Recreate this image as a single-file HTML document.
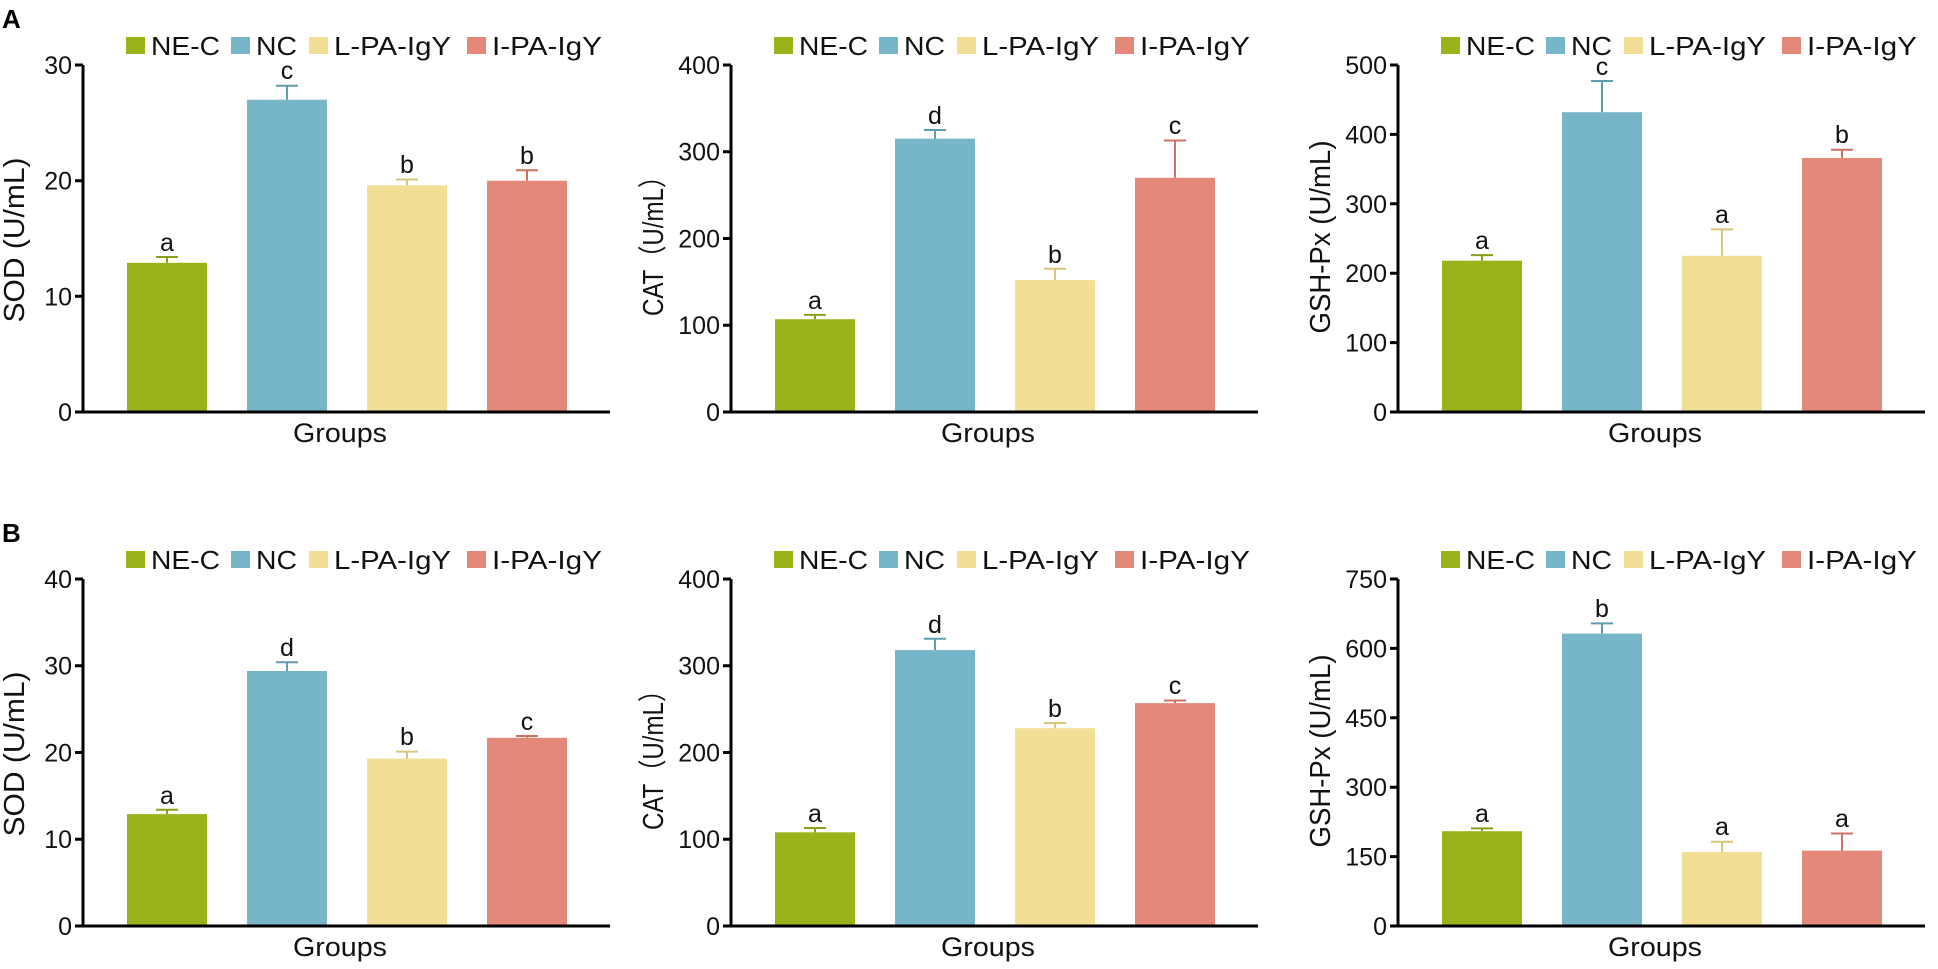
<!DOCTYPE html>
<html><head><meta charset="utf-8"><style>
html,body{margin:0;padding:0;background:#fff;}
svg{display:block;font-family:"Liberation Sans",Arial,sans-serif;}
.t{font-size:25px;fill:#111;text-anchor:end;}
.l{font-size:25px;fill:#111;text-anchor:middle;}
.g{font-size:27px;fill:#111;text-anchor:middle;}
.yt{font-size:29px;fill:#111;text-anchor:middle;}
.lg{font-size:26px;fill:#111;}
.ax{stroke:#000;stroke-width:3;fill:none;}
.G{fill:#9bb31a}.B{fill:#77b5c8}.Y{fill:#f2de95}.R{fill:#e4897a}
.eG{stroke:#8a9f18;stroke-width:2}.eB{stroke:#5f9db0;stroke-width:2}.eY{stroke:#d9c57c;stroke-width:2}.eR{stroke:#cc7263;stroke-width:2}
</style></head><body>
<svg width="1938" height="969" viewBox="0 0 1938 969" xmlns="http://www.w3.org/2000/svg">
<text x="2" y="28" font-size="26" font-weight="bold">A</text>
<text x="2" y="542" font-size="26" font-weight="bold">B</text>

<!-- A1 -->
<g transform="translate(83,65)">
<rect class="G" x="43" y="-28" width="19" height="17"/><text class="lg" x="68" y="-10" textLength="69" lengthAdjust="spacingAndGlyphs">NE-C</text>
<rect class="B" x="148" y="-28" width="19" height="17"/><text class="lg" x="173" y="-10" textLength="41" lengthAdjust="spacingAndGlyphs">NC</text>
<rect class="Y" x="226" y="-28" width="19" height="17"/><text class="lg" x="251" y="-10" textLength="117" lengthAdjust="spacingAndGlyphs">L-PA-IgY</text>
<rect class="R" x="384" y="-28" width="19" height="17"/><text class="lg" x="409" y="-10" textLength="110" lengthAdjust="spacingAndGlyphs">I-PA-IgY</text>
<rect class="G" x="44" y="197.8" width="80" height="149.2"/><line class="eG" x1="84" y1="197.8" x2="84" y2="192"/><line class="eG" x1="73" y1="192" x2="95" y2="192"/><text class="l" x="84" y="186">a</text>
<rect class="B" x="164" y="34.7" width="80" height="312.3"/><line class="eB" x1="204" y1="34.7" x2="204" y2="20.8"/><line class="eB" x1="193" y1="20.8" x2="215" y2="20.8"/><text class="l" x="204" y="14">c</text>
<rect class="Y" x="284" y="120.3" width="80" height="226.7"/><line class="eY" x1="324" y1="120.3" x2="324" y2="114.5"/><line class="eY" x1="313" y1="114.5" x2="335" y2="114.5"/><text class="l" x="324" y="108">b</text>
<rect class="R" x="404" y="115.7" width="80" height="231.3"/><line class="eR" x1="444" y1="115.7" x2="444" y2="105.3"/><line class="eR" x1="433" y1="105.3" x2="455" y2="105.3"/><text class="l" x="444" y="99">b</text>
<path class="ax" d="M0,0V347H527M-8,0H0M-8,115.7H0M-8,231.3H0M-8,347H0"/>
<text class="t" x="-11" y="9">30</text><text class="t" x="-11" y="124.7">20</text><text class="t" x="-11" y="240.3">10</text><text class="t" x="-11" y="356">0</text>
<text class="yt" transform="translate(-59,175) rotate(-90)" textLength="165" lengthAdjust="spacingAndGlyphs">SOD (U/mL)</text>
<text class="g" x="257" y="377" textLength="94" lengthAdjust="spacingAndGlyphs">Groups</text>
</g>

<!-- A2 -->
<g transform="translate(731,65)">
<rect class="G" x="43" y="-28" width="19" height="17"/><text class="lg" x="68" y="-10" textLength="69" lengthAdjust="spacingAndGlyphs">NE-C</text>
<rect class="B" x="148" y="-28" width="19" height="17"/><text class="lg" x="173" y="-10" textLength="41" lengthAdjust="spacingAndGlyphs">NC</text>
<rect class="Y" x="226" y="-28" width="19" height="17"/><text class="lg" x="251" y="-10" textLength="117" lengthAdjust="spacingAndGlyphs">L-PA-IgY</text>
<rect class="R" x="384" y="-28" width="19" height="17"/><text class="lg" x="409" y="-10" textLength="110" lengthAdjust="spacingAndGlyphs">I-PA-IgY</text>
<rect class="G" x="44" y="254.2" width="80" height="92.8"/><line class="eG" x1="84" y1="254.2" x2="84" y2="249.9"/><line class="eG" x1="73" y1="249.9" x2="95" y2="249.9"/><text class="l" x="84" y="244">a</text>
<rect class="B" x="164" y="73.7" width="80" height="273.3"/><line class="eB" x1="204" y1="73.7" x2="204" y2="65"/><line class="eB" x1="193" y1="65" x2="215" y2="65"/><text class="l" x="204" y="59">d</text>
<rect class="Y" x="284" y="215.1" width="80" height="131.9"/><line class="eY" x1="324" y1="215.1" x2="324" y2="203.8"/><line class="eY" x1="313" y1="203.8" x2="335" y2="203.8"/><text class="l" x="324" y="198">b</text>
<rect class="R" x="404" y="112.8" width="80" height="234.2"/><line class="eR" x1="444" y1="112.8" x2="444" y2="75.5"/><line class="eR" x1="433" y1="75.5" x2="455" y2="75.5"/><text class="l" x="444" y="69">c</text>
<path class="ax" d="M0,0V347H527M-8,0H0M-8,86.75H0M-8,173.5H0M-8,260.25H0M-8,347H0"/>
<text class="t" x="-11" y="9">400</text><text class="t" x="-11" y="95.7">300</text><text class="t" x="-11" y="182.5">200</text><text class="t" x="-11" y="269.2">100</text><text class="t" x="-11" y="356">0</text>
<text class="yt" transform="translate(-68,175) rotate(-90)" textLength="152" lengthAdjust="spacingAndGlyphs">CAT（U/mL）</text>
<text class="g" x="257" y="377" textLength="94" lengthAdjust="spacingAndGlyphs">Groups</text>
</g>

<!-- A3 -->
<g transform="translate(1398,65)">
<rect class="G" x="43" y="-28" width="19" height="17"/><text class="lg" x="68" y="-10" textLength="69" lengthAdjust="spacingAndGlyphs">NE-C</text>
<rect class="B" x="148" y="-28" width="19" height="17"/><text class="lg" x="173" y="-10" textLength="41" lengthAdjust="spacingAndGlyphs">NC</text>
<rect class="Y" x="226" y="-28" width="19" height="17"/><text class="lg" x="251" y="-10" textLength="117" lengthAdjust="spacingAndGlyphs">L-PA-IgY</text>
<rect class="R" x="384" y="-28" width="19" height="17"/><text class="lg" x="409" y="-10" textLength="110" lengthAdjust="spacingAndGlyphs">I-PA-IgY</text>
<rect class="G" x="44" y="195.7" width="80" height="151.3"/><line class="eG" x1="84" y1="195.7" x2="84" y2="190.1"/><line class="eG" x1="73" y1="190.1" x2="95" y2="190.1"/><text class="l" x="84" y="184">a</text>
<rect class="B" x="164" y="47.2" width="80" height="299.8"/><line class="eB" x1="204" y1="47.2" x2="204" y2="16"/><line class="eB" x1="193" y1="16" x2="215" y2="16"/><text class="l" x="204" y="10">c</text>
<rect class="Y" x="284" y="190.8" width="80" height="156.2"/><line class="eY" x1="324" y1="190.8" x2="324" y2="164.4"/><line class="eY" x1="313" y1="164.4" x2="335" y2="164.4"/><text class="l" x="324" y="158">a</text>
<rect class="R" x="404" y="93" width="80" height="254"/><line class="eR" x1="444" y1="93" x2="444" y2="84.7"/><line class="eR" x1="433" y1="84.7" x2="455" y2="84.7"/><text class="l" x="444" y="78">b</text>
<path class="ax" d="M0,0V347H527M-8,0H0M-8,69.4H0M-8,138.8H0M-8,208.2H0M-8,277.6H0M-8,347H0"/>
<text class="t" x="-11" y="9">500</text><text class="t" x="-11" y="78.4">400</text><text class="t" x="-11" y="147.8">300</text><text class="t" x="-11" y="217.2">200</text><text class="t" x="-11" y="286.6">100</text><text class="t" x="-11" y="356">0</text>
<text class="yt" transform="translate(-68,172) rotate(-90)" textLength="193" lengthAdjust="spacingAndGlyphs">GSH-Px (U/mL)</text>
<text class="g" x="257" y="377" textLength="94" lengthAdjust="spacingAndGlyphs">Groups</text>
</g>

<!-- B1 -->
<g transform="translate(83,579)">
<rect class="G" x="43" y="-28" width="19" height="17"/><text class="lg" x="68" y="-10" textLength="69" lengthAdjust="spacingAndGlyphs">NE-C</text>
<rect class="B" x="148" y="-28" width="19" height="17"/><text class="lg" x="173" y="-10" textLength="41" lengthAdjust="spacingAndGlyphs">NC</text>
<rect class="Y" x="226" y="-28" width="19" height="17"/><text class="lg" x="251" y="-10" textLength="117" lengthAdjust="spacingAndGlyphs">L-PA-IgY</text>
<rect class="R" x="384" y="-28" width="19" height="17"/><text class="lg" x="409" y="-10" textLength="110" lengthAdjust="spacingAndGlyphs">I-PA-IgY</text>
<rect class="G" x="44" y="235.1" width="80" height="111.9"/><line class="eG" x1="84" y1="235.1" x2="84" y2="230.8"/><line class="eG" x1="73" y1="230.8" x2="95" y2="230.8"/><text class="l" x="84" y="225">a</text>
<rect class="B" x="164" y="92" width="80" height="255"/><line class="eB" x1="204" y1="92" x2="204" y2="83.3"/><line class="eB" x1="193" y1="83.3" x2="215" y2="83.3"/><text class="l" x="204" y="77">d</text>
<rect class="Y" x="284" y="179.6" width="80" height="167.4"/><line class="eY" x1="324" y1="179.6" x2="324" y2="172.6"/><line class="eY" x1="313" y1="172.6" x2="335" y2="172.6"/><text class="l" x="324" y="166">b</text>
<rect class="R" x="404" y="158.8" width="80" height="188.2"/><line class="eR" x1="444" y1="158.8" x2="444" y2="157"/><line class="eR" x1="433" y1="157" x2="455" y2="157"/><text class="l" x="444" y="151">c</text>
<path class="ax" d="M0,0V347H527M-8,0H0M-8,86.75H0M-8,173.5H0M-8,260.25H0M-8,347H0"/>
<text class="t" x="-11" y="9">40</text><text class="t" x="-11" y="95.7">30</text><text class="t" x="-11" y="182.5">20</text><text class="t" x="-11" y="269.2">10</text><text class="t" x="-11" y="356">0</text>
<text class="yt" transform="translate(-59,175) rotate(-90)" textLength="165" lengthAdjust="spacingAndGlyphs">SOD (U/mL)</text>
<text class="g" x="257" y="377" textLength="94" lengthAdjust="spacingAndGlyphs">Groups</text>
</g>

<!-- B2 -->
<g transform="translate(731,579)">
<rect class="G" x="43" y="-28" width="19" height="17"/><text class="lg" x="68" y="-10" textLength="69" lengthAdjust="spacingAndGlyphs">NE-C</text>
<rect class="B" x="148" y="-28" width="19" height="17"/><text class="lg" x="173" y="-10" textLength="41" lengthAdjust="spacingAndGlyphs">NC</text>
<rect class="Y" x="226" y="-28" width="19" height="17"/><text class="lg" x="251" y="-10" textLength="117" lengthAdjust="spacingAndGlyphs">L-PA-IgY</text>
<rect class="R" x="384" y="-28" width="19" height="17"/><text class="lg" x="409" y="-10" textLength="110" lengthAdjust="spacingAndGlyphs">I-PA-IgY</text>
<rect class="G" x="44" y="253.3" width="80" height="93.7"/><line class="eG" x1="84" y1="253.3" x2="84" y2="249"/><line class="eG" x1="73" y1="249" x2="95" y2="249"/><text class="l" x="84" y="243">a</text>
<rect class="B" x="164" y="71.1" width="80" height="275.9"/><line class="eB" x1="204" y1="71.1" x2="204" y2="59.8"/><line class="eB" x1="193" y1="59.8" x2="215" y2="59.8"/><text class="l" x="204" y="54">d</text>
<rect class="Y" x="284" y="149.2" width="80" height="197.8"/><line class="eY" x1="324" y1="149.2" x2="324" y2="144"/><line class="eY" x1="313" y1="144" x2="335" y2="144"/><text class="l" x="324" y="138">b</text>
<rect class="R" x="404" y="124.1" width="80" height="222.9"/><line class="eR" x1="444" y1="124.1" x2="444" y2="121.5"/><line class="eR" x1="433" y1="121.5" x2="455" y2="121.5"/><text class="l" x="444" y="115">c</text>
<path class="ax" d="M0,0V347H527M-8,0H0M-8,86.75H0M-8,173.5H0M-8,260.25H0M-8,347H0"/>
<text class="t" x="-11" y="9">400</text><text class="t" x="-11" y="95.7">300</text><text class="t" x="-11" y="182.5">200</text><text class="t" x="-11" y="269.2">100</text><text class="t" x="-11" y="356">0</text>
<text class="yt" transform="translate(-68,175) rotate(-90)" textLength="152" lengthAdjust="spacingAndGlyphs">CAT（U/mL）</text>
<text class="g" x="257" y="377" textLength="94" lengthAdjust="spacingAndGlyphs">Groups</text>
</g>

<!-- B3 -->
<g transform="translate(1398,579)">
<rect class="G" x="43" y="-28" width="19" height="17"/><text class="lg" x="68" y="-10" textLength="69" lengthAdjust="spacingAndGlyphs">NE-C</text>
<rect class="B" x="148" y="-28" width="19" height="17"/><text class="lg" x="173" y="-10" textLength="41" lengthAdjust="spacingAndGlyphs">NC</text>
<rect class="Y" x="226" y="-28" width="19" height="17"/><text class="lg" x="251" y="-10" textLength="117" lengthAdjust="spacingAndGlyphs">L-PA-IgY</text>
<rect class="R" x="384" y="-28" width="19" height="17"/><text class="lg" x="409" y="-10" textLength="110" lengthAdjust="spacingAndGlyphs">I-PA-IgY</text>
<rect class="G" x="44" y="252.2" width="80" height="94.8"/><line class="eG" x1="84" y1="252.2" x2="84" y2="249.4"/><line class="eG" x1="73" y1="249.4" x2="95" y2="249.4"/><text class="l" x="84" y="243">a</text>
<rect class="B" x="164" y="54.6" width="80" height="292.4"/><line class="eB" x1="204" y1="54.6" x2="204" y2="44.4"/><line class="eB" x1="193" y1="44.4" x2="215" y2="44.4"/><text class="l" x="204" y="38">b</text>
<rect class="Y" x="284" y="273" width="80" height="74"/><line class="eY" x1="324" y1="273" x2="324" y2="262.8"/><line class="eY" x1="313" y1="262.8" x2="335" y2="262.8"/><text class="l" x="324" y="256">a</text>
<rect class="R" x="404" y="271.6" width="80" height="75.4"/><line class="eR" x1="444" y1="271.6" x2="444" y2="254.5"/><line class="eR" x1="433" y1="254.5" x2="455" y2="254.5"/><text class="l" x="444" y="248">a</text>
<path class="ax" d="M0,0V347H527M-8,0H0M-8,69.4H0M-8,138.8H0M-8,208.2H0M-8,277.6H0M-8,347H0"/>
<text class="t" x="-11" y="9">750</text><text class="t" x="-11" y="78.4">600</text><text class="t" x="-11" y="147.8">450</text><text class="t" x="-11" y="217.2">300</text><text class="t" x="-11" y="286.6">150</text><text class="t" x="-11" y="356">0</text>
<text class="yt" transform="translate(-68,172) rotate(-90)" textLength="193" lengthAdjust="spacingAndGlyphs">GSH-Px (U/mL)</text>
<text class="g" x="257" y="377" textLength="94" lengthAdjust="spacingAndGlyphs">Groups</text>
</g>
</svg>
</body></html>
